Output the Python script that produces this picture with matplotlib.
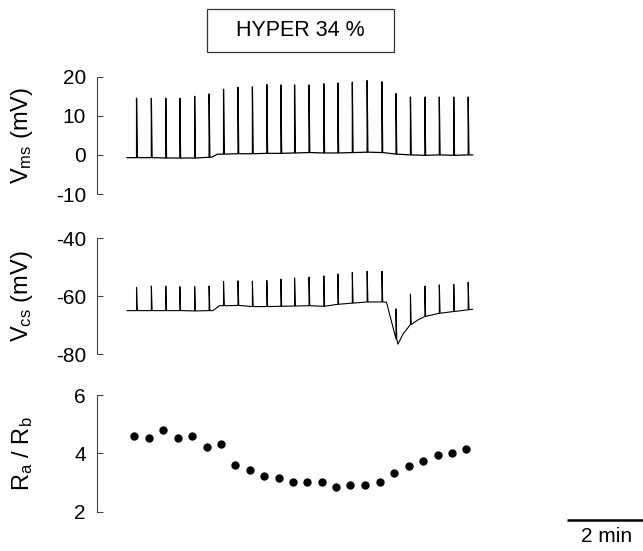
import matplotlib.pyplot as plt
from matplotlib.patches import Rectangle

plt.rcParams['font.family'] = ['Liberation Sans', 'DejaVu Sans']
plt.rcParams['mathtext.fontset'] = 'custom'
plt.rcParams['mathtext.rm'] = 'Liberation Sans'
plt.rcParams['mathtext.it'] = 'Liberation Sans:italic'
plt.rcParams['axes.unicode_minus'] = False

# time in minutes
spike_t = [1.04, 1.43, 1.81, 2.18, 2.57, 2.95, 3.33, 3.71, 4.09, 4.47, 4.84, 5.20,
           5.58, 5.97, 6.34, 6.72, 7.11, 7.50, 7.87, 8.25, 8.63, 9.01, 9.39, 9.77]

vms_peak = [14.5, 14.5, 14.5, 14.5, 15.0, 15.6, 16.8, 17.3, 17.4, 18.0, 17.9, 17.9,
            17.9, 18.2, 18.4, 18.6, 19.0, 18.7, 15.7, 14.8, 14.8, 14.8, 14.8, 14.8]
vms_base = [-0.7, -0.7, -0.8, -0.8, -0.8, -0.6, 0.2, 0.3, 0.3, 0.4, 0.4, 0.5,
            0.6, 0.5, 0.5, 0.6, 0.7, 0.6, 0.2, 0.0, -0.1, 0.0, -0.1, 0.0]
vms_knot_t = [0.79, 3.02, 3.17, 9.89]
vms_knot_v = [-0.7, -0.6, 0.2, 0.0]

vcs_peak = [-57.0, -56.5, -56.5, -56.7, -56.7, -56.5, -55.0, -54.7, -54.8, -54.6, -54.1, -53.7,
            -53.4, -53.0, -52.3, -51.8, -51.4, -51.4, -64.4, -59.3, -56.5, -56.1, -55.9, -55.2]
vcs_base = [-65.0, -65.0, -65.0, -65.0, -65.1, -65.0, -63.3, -63.2, -63.6, -63.6, -63.5, -63.4,
            -63.3, -63.5, -62.8, -62.4, -62.0, -62.0, -74.8, -69.8, -67.0, -65.9, -65.3, -64.7]
vcs_knot_t = [0.79, 3.05, 3.22, 7.62, 7.92, 8.06, 8.45, 9.89]
vcs_knot_v = [-65.0, -65.0, -63.3, -62.1, -76.6, -73.0, -68.2, -64.5]

ratio_t = [0.98, 1.36, 1.74, 2.13, 2.50, 2.89, 3.26, 3.64, 4.02, 4.40, 4.78, 5.16,
           5.53, 5.91, 6.29, 6.67, 7.06, 7.45, 7.83, 8.20, 8.58, 8.97, 9.35, 9.72]
ratio = [4.61, 4.51, 4.81, 4.51, 4.61, 4.22, 4.32, 3.61, 3.42, 3.23, 3.14, 3.02,
         3.02, 3.02, 2.83, 2.93, 2.93, 3.02, 3.32, 3.55, 3.73, 3.93, 4.02, 4.14]


def trace(knot_t, knot_v, base, peak):
    pts = list(zip(knot_t, knot_v))
    for t, b, p in zip(spike_t, base, peak):
        pts += [(t, b), (t, p), (t + 0.02, b)]
    pts.sort(key=lambda q: q[0])
    return [q[0] for q in pts], [q[1] for q in pts]


def style(ax, lo, hi, ticks, label):
    ax.set_xlim(0, 14.37)
    ax.set_ylim(lo, hi)
    ax.set_yticks(ticks)
    for s in ['top', 'right', 'bottom']:
        ax.spines[s].set_visible(False)
    ax.spines['left'].set_color('#444444')
    ax.spines['left'].set_linewidth(0.8)
    ax.tick_params(axis='y', direction='in', length=4.5, width=0.8, color='#444444',
                   labelsize=15, pad=8)
    ax.set_xticks([])
    ax.set_ylabel(label, fontsize=17)
    ax.yaxis.set_label_coords(-0.113, 0.5)
    ax.patch.set_visible(False)


fig = plt.figure(figsize=(6.43, 5.51), dpi=100)

ax1 = fig.add_axes([0.1509, 0.6479, 0.849, 0.2129])
ax2 = fig.add_axes([0.1509, 0.3575, 0.849, 0.2100])
ax3 = fig.add_axes([0.1509, 0.0713, 0.849, 0.2118])

x, y = trace(vms_knot_t, vms_knot_v, vms_base, vms_peak)
ax1.plot(x, y, color='black', lw=0.9)
style(ax1, -10, 20, [-10, 0, 10, 20], r'V$_{\rm ms}$ (mV)')

x, y = trace(vcs_knot_t, vcs_knot_v, vcs_base, vcs_peak)
ax2.plot(x, y, color='black', lw=0.8)
style(ax2, -80, -40, [-80, -60, -40], r'V$_{\rm cs}$ (mV)')

ax3.plot(ratio_t, ratio, 'o', color='black', ms=5)
style(ax3, 2, 6, [2, 4, 6], r'R$_{\rm a}$ / R$_{\rm b}$')

# 2 min scale bar
ax3.plot([12.37, 14.37], [1.72, 1.72], color='black', lw=1.8, clip_on=False,
         solid_capstyle='butt')
ax3.text(13.4, 1.15, '2 min', ha='center', va='center', fontsize=15)

# condition box
fig.patches.append(Rectangle((0.3215, 0.9056), 0.2913, 0.0775, transform=fig.transFigure,
                             fill=False, edgecolor='#333333', lw=0.9))
fig.text(0.4672, 0.9443, 'HYPER 34 %', ha='center', va='center', fontsize=15.5)

fig.savefig('out.png', dpi=100)
